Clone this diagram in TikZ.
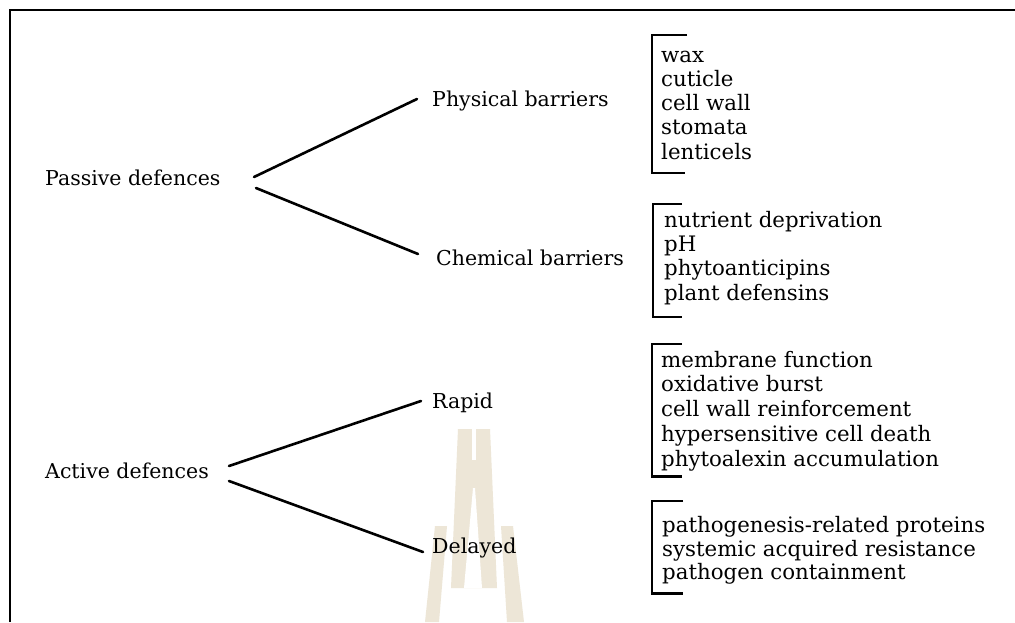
\documentclass[tikz,border=0pt]{standalone}
\usepackage{fontspec}
\setmainfont{DejaVu Serif}
\definecolor{wm}{RGB}{237,230,215}
\tikzset{
  lbl/.style={anchor=base west, inner sep=0pt, font=\fontsize{20.5}{24}\selectfont},
  lst/.style={anchor=north west, inner sep=0pt, align=left},
  conn/.style={line width=2.6pt, line cap=round},
  brk/.style={line width=2.2pt},
}
\begin{document}
\begin{tikzpicture}[x=1pt,y=-1pt]
\useasboundingbox (0,0) rectangle (1015,622);
\fill[white] (0,0) rectangle (1015,622);
% frame
\draw[line width=2.2pt] (10,622) -- (10,10) -- (1015,10);
% watermark
\fill[wm] (458,429) -- (490,429) -- (497,588) -- (451,588) -- cycle;
\fill[white] (472,429) -- (476,429) -- (476,460) -- (472,460) -- cycle;
\fill[white] (473,488) -- (475,488) -- (482,588) -- (464,588) -- cycle;
\fill[wm] (435,526) -- (447,526) -- (439,622) -- (425,622) -- cycle;
\fill[wm] (501,526) -- (513,526) -- (524,622) -- (507,622) -- cycle;
% labels
\node[lbl] (pd) at (45,185) {Passive defences};
\node[lbl] (phys) at (432,106) {Physical barriers};
\node[lbl] (chem) at (436,265) {Chemical barriers};
\node[lbl] (ad) at (45,478) {Active defences};
\node[lbl] (rapid) at (432,408) {Rapid};
\node[lbl] (delayed) at (432,553) {Delayed};
% connectors
\draw[conn] ([shift={(209,-8)}]pd.base west) -- ([shift={(-15,-7)}]phys.base west);
\draw[conn] ([shift={(211,3)}]pd.base west) -- ([shift={(-18,-11)}]chem.base west);
\draw[conn] ([shift={(184,-12)}]ad.base west) -- ([shift={(-11,-7)}]rapid.base west);
\draw[conn] ([shift={(184,3)}]ad.base west) -- ([shift={(-9,-1)}]delayed.base west);
% lists
\node[lst, font=\fontsize{21.3}{24.25}\selectfont] (l1) at (661,45) {\strut wax\\cuticle\\cell wall\\stomata\\lenticels\strut};
\node[lst, font=\fontsize{21.3}{24.3}\selectfont] (l2) at (664,210) {\strut nutrient deprivation\\pH\\phytoanticipins\\plant defensins\strut};
\node[lst, font=\fontsize{21.3}{24.75}\selectfont] (l3) at (661,349.7) {\strut membrane function\\oxidative burst\\cell wall reinforcement\\hypersensitive cell death\\phytoalexin accumulation\strut};
\node[lst, font=\fontsize{21.3}{23}\selectfont] (l4) at (662,515.9) {\strut pathogenesis-related proteins\\systemic acquired resistance\\pathogen containment\strut};
% brackets
\draw[brk] ([shift={(26,-10)}]l1.north west) -- ([shift={(-9,-10)}]l1.north west) -- ([shift={(-9,6.7)}]l1.south west) -- ([shift={(24,6.7)}]l1.south west);
\draw[brk] ([shift={(18,-6)}]l2.north west) -- ([shift={(-11,-6)}]l2.north west) -- ([shift={(-11,9.7)}]l2.south west) -- ([shift={(18,9.7)}]l2.south west);
\draw[brk] ([shift={(21,-5.7)}]l3.north west) -- ([shift={(-9,-5.7)}]l3.north west) -- ([shift={(-9,2.6)}]l3.south west) -- ([shift={(21,2.6)}]l3.south west);
\draw[brk] ([shift={(21,-14.9)}]l4.north west) -- ([shift={(-10,-14.9)}]l4.north west) -- ([shift={(-10,7.1)}]l4.south west) -- ([shift={(21,7.1)}]l4.south west);
\end{tikzpicture}
\end{document}
